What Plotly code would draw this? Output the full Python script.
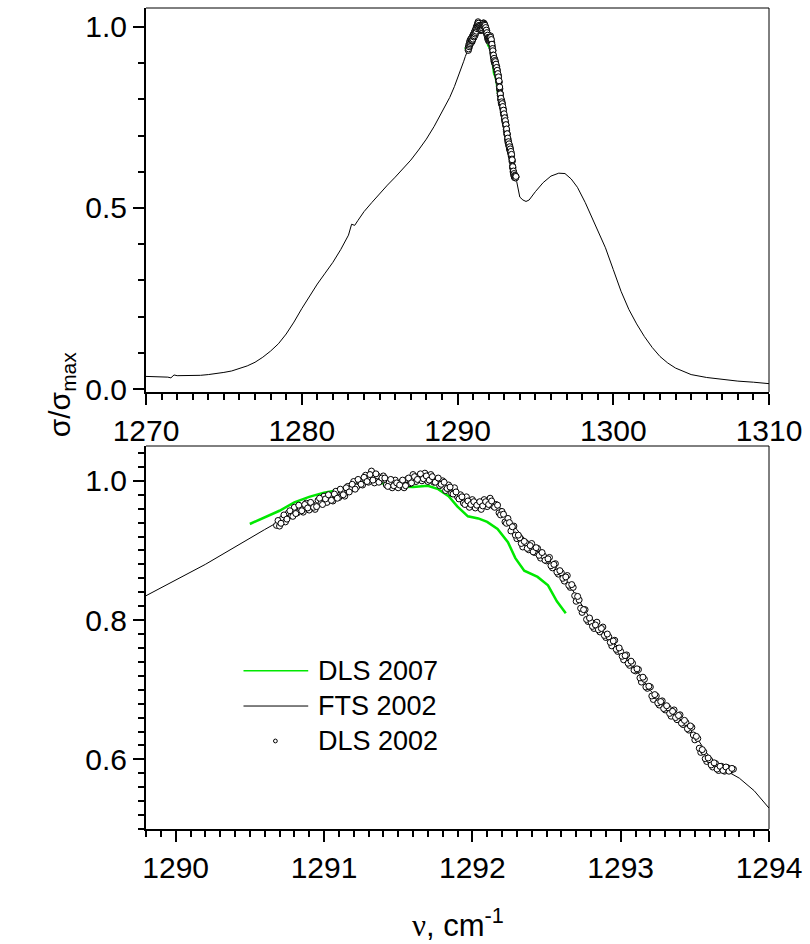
import plotly.graph_objects as go

# ---------------- data ----------------
fts_x = [1270.0, 1270.5, 1271.0, 1271.4, 1271.6, 1271.8, 1272.0, 1272.3, 1272.6, 1273.0,
         1273.5, 1274.0, 1274.5, 1275.0, 1275.5, 1276.0, 1276.5, 1277.0, 1277.5, 1278.0,
         1278.5, 1279.0, 1279.5, 1280.0, 1280.5, 1281.0, 1281.5, 1282.0, 1282.5, 1283.0,
         1283.2, 1283.4, 1283.6, 1284.0, 1284.5, 1285.0, 1285.5, 1286.0, 1286.5, 1287.0,
         1287.5, 1288.0, 1288.5, 1289.0, 1289.5, 1289.8, 1290.0, 1290.2, 1290.4, 1290.5,
         1290.6, 1290.7, 1290.8, 1290.9, 1291.0, 1291.1, 1291.2, 1291.3, 1291.4, 1291.5,
         1291.6, 1291.7, 1291.8, 1291.9, 1292.0, 1292.1, 1292.2, 1292.3, 1292.4, 1292.5,
         1292.6, 1292.7, 1292.8, 1292.9, 1293.0, 1293.1, 1293.2, 1293.3, 1293.4, 1293.5,
         1293.6, 1293.7, 1293.8, 1293.9, 1294.0, 1294.2, 1294.4, 1294.6, 1295.0, 1295.5,
         1296.0, 1296.5, 1296.9, 1297.3, 1297.7, 1298.2, 1298.6, 1299.0, 1299.5, 1300.0,
         1300.5, 1301.0, 1301.5, 1302.0, 1302.5, 1303.0, 1303.5, 1304.0, 1304.5, 1305.0,
         1306.0, 1307.0, 1308.0, 1309.0, 1310.0]
fts_y = [0.035, 0.034, 0.035, 0.033, 0.031, 0.039, 0.037, 0.037, 0.038, 0.037,
         0.038, 0.040, 0.042, 0.046, 0.050, 0.056, 0.064, 0.074, 0.088, 0.105,
         0.125, 0.152, 0.185, 0.222, 0.258, 0.290, 0.320, 0.350, 0.385, 0.425,
         0.455, 0.452, 0.465, 0.490, 0.515, 0.540, 0.563, 0.585, 0.608, 0.632,
         0.660, 0.690, 0.725, 0.765, 0.805, 0.835, 0.857, 0.880, 0.905, 0.918,
         0.930, 0.942, 0.952, 0.962, 0.970, 0.979, 0.989, 0.998, 1.002, 0.998,
         0.997, 1.003, 1.000, 0.985, 0.968, 0.966, 0.960, 0.930, 0.905, 0.890,
         0.868, 0.835, 0.800, 0.780, 0.757, 0.730, 0.699, 0.676, 0.658, 0.635,
         0.603, 0.585, 0.573, 0.555, 0.530, 0.522, 0.518, 0.522, 0.545, 0.570,
         0.588, 0.596, 0.595, 0.580, 0.557, 0.515, 0.475, 0.435, 0.390, 0.330,
         0.270, 0.220, 0.180, 0.145, 0.115, 0.090, 0.072, 0.058, 0.048, 0.040,
         0.032, 0.026, 0.022, 0.019, 0.015]

dls07_x = [1290.50, 1290.60, 1290.70, 1290.80, 1290.90, 1291.00, 1291.10, 1291.20, 1291.30,
           1291.40, 1291.50, 1291.60, 1291.70, 1291.77, 1291.84, 1291.90, 1291.97, 1292.04,
           1292.10, 1292.17, 1292.24, 1292.29, 1292.35, 1292.44, 1292.51, 1292.57, 1292.63]
dls07_y = [0.938, 0.947, 0.957, 0.969, 0.977, 0.983, 0.987, 0.993, 0.999,
           0.996, 0.992, 0.991, 0.993, 0.988, 0.978, 0.963, 0.949, 0.946,
           0.941, 0.931, 0.912, 0.889, 0.871, 0.862, 0.850, 0.827, 0.810]

# DLS 2002 scan, first set of points
dls02a_x = [1290.68, 1290.70, 1290.72, 1290.74, 1290.76, 1290.78, 1290.80, 1290.82, 1290.84, 1290.86,
            1290.88, 1290.90, 1290.92, 1290.94, 1290.96, 1290.98, 1291.00, 1291.02, 1291.04, 1291.06,
            1291.08, 1291.10, 1291.12, 1291.14, 1291.16, 1291.18, 1291.20, 1291.22, 1291.24, 1291.26,
            1291.28, 1291.30, 1291.32, 1291.34, 1291.36, 1291.38, 1291.40, 1291.42, 1291.44, 1291.46,
            1291.48, 1291.50, 1291.52, 1291.54, 1291.56, 1291.58, 1291.60, 1291.62, 1291.64, 1291.66,
            1291.68, 1291.70, 1291.72, 1291.74, 1291.76, 1291.78, 1291.80, 1291.82, 1291.84, 1291.86,
            1291.88, 1291.90, 1291.92, 1291.94, 1291.96, 1291.98, 1292.00, 1292.02, 1292.04, 1292.06,
            1292.08, 1292.10, 1292.12, 1292.14, 1292.16, 1292.18, 1292.20, 1292.22, 1292.24, 1292.26,
            1292.28, 1292.30, 1292.32, 1292.34, 1292.36, 1292.38, 1292.40, 1292.42, 1292.44, 1292.46,
            1292.48, 1292.50, 1292.52, 1292.54, 1292.56, 1292.58, 1292.60, 1292.62, 1292.64, 1292.66,
            1292.68, 1292.70, 1292.72, 1292.74, 1292.76, 1292.78, 1292.80, 1292.82, 1292.84, 1292.86,
            1292.88, 1292.90, 1292.92, 1292.94, 1292.96, 1292.98, 1293.00, 1293.02, 1293.04, 1293.06,
            1293.08, 1293.10, 1293.12, 1293.14, 1293.16, 1293.18, 1293.20, 1293.22, 1293.24, 1293.26,
            1293.28, 1293.30, 1293.32, 1293.34, 1293.36, 1293.38, 1293.40, 1293.42, 1293.44, 1293.46,
            1293.48, 1293.50, 1293.52, 1293.54, 1293.56, 1293.58, 1293.60, 1293.62, 1293.64, 1293.66,
            1293.68, 1293.70, 1293.72, 1293.74, 1293.76]
dls02a_y = [0.936, 0.935, 0.946, 0.941, 0.954, 0.950, 0.962, 0.954, 0.961, 0.955,
            0.968, 0.958, 0.966, 0.959, 0.972, 0.968, 0.978, 0.969, 0.976, 0.971,
            0.985, 0.976, 0.985, 0.978, 0.992, 0.988, 0.999, 0.991, 0.999, 0.994,
            1.008, 0.998, 1.014, 0.997, 1.007, 1.000, 1.007, 0.994, 0.998, 0.990,
            1.001, 0.990, 0.998, 0.990, 1.002, 0.996, 1.009, 0.999, 1.007, 1.000,
            1.011, 0.999, 1.009, 0.998, 1.002, 0.993, 1.000, 0.986, 0.994, 0.982,
            0.990, 0.977, 0.980, 0.968, 0.977, 0.962, 0.973, 0.961, 0.968, 0.959,
            0.973, 0.963, 0.975, 0.964, 0.966, 0.954, 0.956, 0.941, 0.946, 0.928,
            0.935, 0.917, 0.918, 0.905, 0.911, 0.901, 0.910, 0.897, 0.903, 0.889,
            0.892, 0.885, 0.890, 0.875, 0.881, 0.866, 0.868, 0.856, 0.864, 0.847,
            0.847, 0.827, 0.829, 0.811, 0.815, 0.798, 0.797, 0.788, 0.797, 0.783,
            0.790, 0.775, 0.776, 0.763, 0.771, 0.755, 0.755, 0.743, 0.750, 0.735,
            0.738, 0.727, 0.729, 0.711, 0.715, 0.702, 0.704, 0.686, 0.691, 0.678,
            0.684, 0.671, 0.674, 0.662, 0.671, 0.657, 0.664, 0.650, 0.653, 0.642,
            0.646, 0.628, 0.630, 0.610, 0.611, 0.597, 0.599, 0.589, 0.594, 0.584,
            0.590, 0.583, 0.588, 0.584, 0.586]

# DLS 2002 scan, second (interleaved) set of points
dls02b_x = [1290.69, 1290.71, 1290.73, 1290.75, 1290.77, 1290.79, 1290.81, 1290.83, 1290.85, 1290.87,
            1290.89, 1290.91, 1290.93, 1290.95, 1290.97, 1290.99, 1291.01, 1291.03, 1291.05, 1291.07,
            1291.09, 1291.11, 1291.13, 1291.15, 1291.17, 1291.19, 1291.21, 1291.23, 1291.25, 1291.27,
            1291.29, 1291.31, 1291.33, 1291.35, 1291.37, 1291.39, 1291.41, 1291.43, 1291.45, 1291.47,
            1291.49, 1291.51, 1291.53, 1291.55, 1291.57, 1291.59, 1291.61, 1291.63, 1291.65, 1291.67,
            1291.69, 1291.71, 1291.73, 1291.75, 1291.77, 1291.79, 1291.81, 1291.83, 1291.85, 1291.87,
            1291.89, 1291.91, 1291.93, 1291.95, 1291.97, 1291.99, 1292.01, 1292.03, 1292.05, 1292.07,
            1292.09, 1292.11, 1292.13, 1292.15, 1292.17, 1292.19, 1292.21, 1292.23, 1292.25, 1292.27,
            1292.29, 1292.31, 1292.33, 1292.35, 1292.37, 1292.39, 1292.41, 1292.43, 1292.45, 1292.47,
            1292.49, 1292.51, 1292.53, 1292.55, 1292.57, 1292.59, 1292.61, 1292.63, 1292.65, 1292.67,
            1292.69, 1292.71, 1292.73, 1292.75, 1292.77, 1292.79, 1292.81, 1292.83, 1292.85, 1292.87,
            1292.89, 1292.91, 1292.93, 1292.95, 1292.97, 1292.99, 1293.01, 1293.03, 1293.05, 1293.07,
            1293.09, 1293.11, 1293.13, 1293.15, 1293.17, 1293.19, 1293.21, 1293.23, 1293.25, 1293.27,
            1293.29, 1293.31, 1293.33, 1293.35, 1293.37, 1293.39, 1293.41, 1293.43, 1293.45, 1293.47,
            1293.49, 1293.51, 1293.53, 1293.55, 1293.57, 1293.59, 1293.61, 1293.63, 1293.65, 1293.67,
            1293.69, 1293.71, 1293.73, 1293.75]
dls02b_y = [0.943, 0.939, 0.951, 0.945, 0.957, 0.949, 0.953, 0.965, 0.957, 0.966,
            0.961, 0.969, 0.962, 0.963, 0.975, 0.966, 0.974, 0.980, 0.972, 0.981,
            0.975, 0.988, 0.980, 0.990, 0.984, 0.995, 0.988, 1.002, 0.995, 1.005,
            0.999, 1.009, 1.001, 1.010, 0.998, 1.004, 1.004, 0.992, 1.002, 0.993,
            0.997, 0.994, 1.001, 0.993, 1.004, 0.997, 1.006, 1.002, 1.010, 1.003,
            1.007, 1.001, 1.006, 0.998, 1.004, 0.995, 0.998, 0.989, 0.991, 0.981,
            0.984, 0.974, 0.977, 0.966, 0.971, 0.966, 0.970, 0.965, 0.970, 0.964,
            0.970, 0.966, 0.971, 0.962, 0.965, 0.951, 0.952, 0.939, 0.940, 0.934,
            0.922, 0.922, 0.910, 0.913, 0.903, 0.907, 0.898, 0.904, 0.893, 0.897,
            0.886, 0.888, 0.878, 0.880, 0.869, 0.871, 0.860, 0.862, 0.850, 0.851,
            0.835, 0.834, 0.817, 0.815, 0.801, 0.803, 0.791, 0.793, 0.786, 0.788,
            0.778, 0.780, 0.768, 0.770, 0.758, 0.760, 0.748, 0.749, 0.738, 0.741,
            0.728, 0.730, 0.717, 0.718, 0.704, 0.705, 0.691, 0.693, 0.681, 0.683,
            0.673, 0.677, 0.666, 0.669, 0.660, 0.663, 0.652, 0.656, 0.644, 0.648,
            0.635, 0.633, 0.616, 0.614, 0.601, 0.602, 0.592, 0.595, 0.586, 0.590,
            0.584, 0.589, 0.583, 0.587]

names = ["DLS 2007", "FTS 2002", "DLS 2002"]
green = "rgb(0,232,0)"
FONT = "Liberation Sans, Arial, sans-serif"

dls02_x = dls02a_x + dls02b_x
dls02_y = dls02a_y + dls02b_y

fig = go.Figure()
for xa, ya in [("x", "y"), ("x2", "y2")]:
    fig.add_trace(go.Scatter(x=dls07_x, y=dls07_y, mode="lines", name=names[0],
                             line=dict(color=green, width=2.5), xaxis=xa, yaxis=ya,
                             showlegend=False))
    fig.add_trace(go.Scatter(x=fts_x, y=fts_y, mode="lines", name=names[1],
                             line=dict(color="black", width=1), xaxis=xa, yaxis=ya,
                             showlegend=False))
    fig.add_trace(go.Scatter(x=dls02_x, y=dls02_y, mode="markers", name=names[2],
                             marker=dict(symbol="circle", size=6, color="white",
                                         line=dict(width=1, color="black")),
                             xaxis=xa, yaxis=ya, showlegend=False))

tickfont = dict(family=FONT, size=30, color="black")
common = dict(showline=True, linewidth=2, linecolor="black", mirror=False,
              ticks="outside", ticklen=11, tickwidth=2, tickcolor="black",
              showgrid=False, zeroline=False, tickfont=tickfont)
minor = dict(ticks="outside", ticklen=6, tickwidth=2, tickcolor="black")

fig.update_layout(
    width=810, height=944,
    margin=dict(l=146, r=38, t=8, b=115),
    paper_bgcolor="white", plot_bgcolor="white",
    font=dict(family=FONT, color="black"),
    showlegend=False,
    xaxis=dict(domain=[0, 1], anchor="y", range=[1270, 1310], tick0=1270, dtick=10,
               minor=dict(dtick=1, **minor), **common),
    yaxis=dict(domain=[0.5323, 1], anchor="x", range=[-0.008, 1.052], tick0=0, dtick=0.5,
               tickformat=".1f", minor=dict(dtick=0.1, **minor), **common),
    xaxis2=dict(domain=[0, 1], anchor="y2", range=[1289.8, 1294], tick0=1290, dtick=1,
                minor=dict(dtick=0.1, **minor), **common),
    yaxis2=dict(domain=[0, 0.4665], anchor="x2", range=[0.5, 1.05], tick0=0, dtick=0.2,
                tickformat=".1f", minor=dict(dtick=0.02, **minor), **common),
)

# thin top / right frame lines
for xd, yd in [("x domain", "y domain"), ("x2 domain", "y2 domain")]:
    fig.add_shape(type="line", xref=xd, yref=yd, x0=0, x1=1, y0=1, y1=1,
                  line=dict(color="black", width=1))
    fig.add_shape(type="line", xref=xd, yref=yd, x0=1, x1=1, y0=0, y1=1,
                  line=dict(color="black", width=1))

# legend inside lower panel (drawn as in the original: long line samples)
leg_rows = [0.4133, 0.3211, 0.2298]
fig.add_shape(type="line", xref="x2 domain", yref="y2 domain", x0=0.1565, x1=0.2604,
              y0=leg_rows[0], y1=leg_rows[0], line=dict(color=green, width=1.5))
fig.add_shape(type="line", xref="x2 domain", yref="y2 domain", x0=0.1565, x1=0.2604,
              y0=leg_rows[1], y1=leg_rows[1], line=dict(color="black", width=1))
fig.add_shape(type="circle", xref="x2 domain", yref="y2 domain",
              x0=0.2077 - 0.0030, x1=0.2077 + 0.0030,
              y0=leg_rows[2] - 0.0050, y1=leg_rows[2] + 0.0050,
              line=dict(color="black", width=1), fillcolor="white")
for name, yr in zip(names, leg_rows):
    fig.add_annotation(xref="x2 domain", yref="y2 domain", x=0.2732, y=yr,
                       xanchor="left", yanchor="middle", text=name, showarrow=False,
                       font=dict(family=FONT, size=27, color="black"))

fig.add_annotation(xref="paper", yref="paper", x=-0.169, y=0.5298,
                   text="σ/σ<sub>max</sub>", textangle=-90, showarrow=False,
                   font=dict(family=FONT, size=30, color="black"))
fig.add_annotation(xref="paper", yref="paper", x=0.5, y=-0.1395, yanchor="bottom",
                   borderpad=0,
                   text="<span style=\"font-family:'Liberation Serif', 'Times New Roman', serif\">ν</span>, cm<sup>-1</sup>",
                   showarrow=False, font=dict(family=FONT, size=31, color="black"))

fig.write_html("out.html")
